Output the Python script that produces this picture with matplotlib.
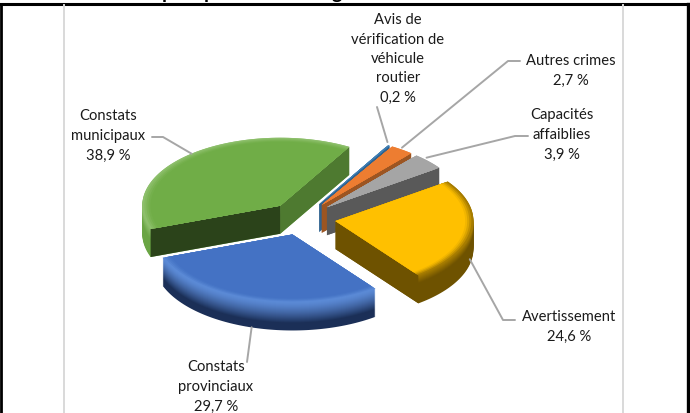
import numpy as np
import matplotlib
matplotlib.use('Agg')
import matplotlib.pyplot as plt
from matplotlib.colors import to_rgb

plt.rcParams['font.family'] = ['Lato', 'DejaVu Sans']

labels = ['Avis de\nvérification de\nvéhicule\nroutier', 'Autres crimes', 'Capacités\naffaiblies',
          'Avertissement', 'Constats\nprovinciaux', 'Constats\nmunicipaux']
values = [0.2, 2.7, 3.9, 24.6, 29.7, 38.9]

top_colors = ['#3f7fb5', '#ed7d31', '#a5a5a5', '#ffc000', '#4472c4', '#70ad47']
wall_colors = ['#2f6390', '#9c5522', '#595959', '#6e5200', '#1f3864', '#4e7a30']
front_colors = ['#2f6390', '#9c5522', '#595959', '#6e5200', '#1f3864', '#2b431a']
rim_colors = ['#2f6390', '#9c5522', '#595959', '#6e5200', '#1b2f57', '#6aa544']
ring_colors = ['#3f7fb5', '#ed7d31', '#a5a5a5', '#a67c00', '#5b8ad6', '#8dbf6b']

# label centre, leader bend, and where the leader lands on each slice
label_x = [398, 571, 562, 569, 216, 108]
label_y = [59, 71, 135, 327, 387, 136]
elbow = [(377, 108), (508, 62), (515, 137), (503, 321), (247, 363), (163, 138)]
stub_x = [377, 520, 528, 515, 247, 152]
anchor_r = [0.98, 1.0, 0.98, 0.985, 1.04, 1.0]
anchor_z = [-4.5, -2, -4.5, 28, 25, 0]

cx, cy = 302, 219.5
rx, ry = 138, 68
explode = 0.245
depth = 28
first_angle = 30


def xy(theta, r=1.0, ox=0.0, oy=0.0, z=0.0):
    t = np.radians(theta)
    return ox + r * rx * np.sin(t), oy - r * ry * np.cos(t) + z


def wedge(a, b, ox, oy, r=1.0, z=0.0):
    th = np.linspace(a, b, 80)
    x, y = xy(th, r, ox, oy, z)
    return np.r_[ox, x], np.r_[oy + z, y]


def mix(c1, c2, f):
    c1, c2 = np.array(to_rgb(c1)), np.array(to_rgb(c2))
    return c1 + (c2 - c1) * f


fig = plt.figure(figsize=(6.9, 4.14), dpi=100)
ax = fig.add_axes([0, 0, 1, 1])
ax.set_xlim(0, 690)
ax.set_ylim(414, 0)
ax.axis('off')

# frame and the grey rules of the page
ax.plot([1, 1], [5, 414], color='black', lw=2)
ax.plot([0, 690], [5, 5], color='black', lw=2.2)
ax.plot([688, 688], [5, 414], color='black', lw=2.4)
ax.plot([64, 64], [6, 414], color='#d9d9d9', lw=1.4)
ax.plot([623, 623], [6, 414], color='#d9d9d9', lw=1.4)

# only the tails of the cut off title are left in the picture
for tx, ch in zip([167, 209, 337], 'ppg'):
    ax.text(tx, -1, ch, ha='center', va='baseline', fontsize=14, fontweight='bold', color='black', clip_on=False)

# start angle of every slice, clockwise from the top
starts = first_angle + np.cumsum([0] + [v * 3.6 for v in values[:-1]])
ends = starts + np.array(values) * 3.6
mids = (starts + ends) / 2

# back slices first, front ones over them
order = [5, 0, 1, 2, 3, 4]
for i in order:
    a, b = starts[i], ends[i]
    ox = cx + explode * rx * np.sin(np.radians(mids[i]))
    oy = cy - explode * ry * np.cos(np.radians(mids[i]))

    # outer side, stacked from the bottom up
    for z in np.arange(depth, -1, -1.0):
        f = z / depth
        if i == 4:
            col = mix(ring_colors[i], rim_colors[i], min(1, (f / 0.75) ** 1.4))
        elif i == 5:
            col = mix(ring_colors[i], rim_colors[i], min(1, f / 0.4))
        else:
            col = mix(ring_colors[i], rim_colors[i], min(1, f / 0.3))
        x, y = wedge(a, b, ox, oy, z=z)
        ax.fill(x, y, color=col, lw=0)

    # the two cut faces, when they look towards us
    if np.sin(np.radians(b)) > 0:
        x1, y1 = xy(b, 1.0, ox, oy)
        ax.fill([ox, x1, x1, ox], [oy, y1, y1 + depth, oy + depth], color=wall_colors[i], lw=0)
    if np.sin(np.radians(a)) < 0:
        x1, y1 = xy(a, 1.0, ox, oy)
        ax.fill([ox, x1, x1, ox], [oy, y1, y1 + depth, oy + depth], color=front_colors[i], lw=0)

    # top, with a soft ring close to the edge
    for r, f in zip([1.0, 0.985, 0.97, 0.955, 0.94], [1.0, 0.7, 0.4, 0.15, 0.0]):
        x, y = wedge(a, b, ox, oy, r=r)
        ax.fill(x, y, color=mix(top_colors[i], ring_colors[i], f), lw=0)

# data labels with their leaders
for i in range(len(values)):
    ox = cx + explode * rx * np.sin(np.radians(mids[i]))
    oy = cy - explode * ry * np.cos(np.radians(mids[i]))
    ex, ey = xy(mids[i], anchor_r[i], ox, oy, anchor_z[i])
    ax.plot([stub_x[i], elbow[i][0], ex], [elbow[i][1], elbow[i][1], ey], color='#a6a6a6', lw=1.4,
            solid_joinstyle='round', solid_capstyle='round')
    ax.text(label_x[i], label_y[i], labels[i] + '\n' + '{:.1f} %'.format(values[i]).replace('.', ','),
            ha='center', va='center', fontsize=10.6, color='#1a1a1a', linespacing=1.5)

fig.savefig('out.png', dpi=100)
